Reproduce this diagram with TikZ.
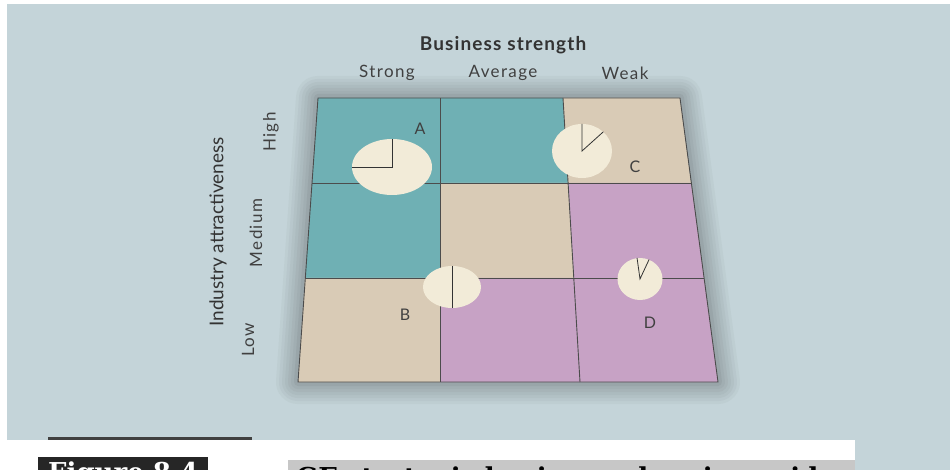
\documentclass[tikz,border=0pt]{standalone}
\usepackage{fontspec}
\setmainfont{Lato}
\newfontfamily\capfont{DejaVu Serif}
\usetikzlibrary{positioning}
\usetikzlibrary{shapes.geometric,calc}

\definecolor{bgblue}{RGB}{196,212,217}
\definecolor{geteal}{RGB}{111,176,180}
\definecolor{gebeige}{RGB}{217,203,182}
\definecolor{gemauve}{RGB}{199,162,197}
\definecolor{gepie}{RGB}{242,235,216}

\begin{document}
\begin{tikzpicture}[x=1pt,y=-1pt,
  lbl/.style={text=black!75, font=\fontsize{17}{20}\selectfont\addfontfeature{LetterSpace=8}},
  ttl/.style={text=black!80, font=\bfseries\fontsize{19}{22}\selectfont\addfontfeature{LetterSpace=6}},
  letter/.style={text=black!75, font=\fontsize{16}{19}\selectfont},
  pie/.style={ellipse, fill=gepie, inner sep=0pt},
  slice/.style={draw=black!80, line width=0.8pt},
  gridline/.style={draw=black!70, line width=0.9pt}]
\useasboundingbox (0,0) rectangle (950,470);
\clip (0,0) rectangle (950,470);
\fill[bgblue] (7,4) rectangle (950,470);
\fill[white] (0,440) rectangle (855,470);
\draw[black!75, line width=3pt] (48,438) -- (252,438);

\coordinate (g00) at (318,98);  \coordinate (g01) at (440,98);
\coordinate (g02) at (563,98);  \coordinate (g03) at (680,98);
\coordinate (g10) at (312,183); \coordinate (g11) at (440,183);
\coordinate (g12) at (568,183); \coordinate (g13) at (691,183);
\coordinate (g20) at (305,278); \coordinate (g21) at (440,278);
\coordinate (g22) at (574,278); \coordinate (g23) at (704,278);
\coordinate (g30) at (298,382); \coordinate (g31) at (440,382);
\coordinate (g32) at (580,382); \coordinate (g33) at (718,382);

\foreach \w/\k in {44/3,38/6,32/9,26/12,20/15,14/18,8/22}
  \draw[draw=black!\k!bgblue, fill=black!\k!bgblue, line width=\w, line join=round,
    shift={(0,16)}] (g00)--(g03)--(g33)--(g30)--cycle;

\foreach \r/\c/\col [evaluate=\r as \rr using int(\r+1),
    evaluate=\c as \cc using int(\c+1)] in
  {0/0/geteal,0/1/geteal,0/2/gebeige,
   1/0/geteal,1/1/gebeige,1/2/gemauve,
   2/0/gebeige,2/1/gemauve,2/2/gemauve}
  \fill[\col] (g\r\c)--(g\r\cc)--(g\rr\cc)--(g\rr\c)--cycle;

\draw[gridline] (g00)--(g03)--(g33)--(g30)--cycle;
\draw[gridline] (g10)--(g13);
\draw[gridline] (g20)--(g23);
\draw[gridline] (g01)--(g31);
\draw[gridline] (g02)--(g32);

\node[pie, minimum width=80, minimum height=56] (pieA) at (392,167) {};
\node[pie, minimum width=60, minimum height=54] (pieC) at (582,151) {};
\node[pie, minimum width=58, minimum height=42] (pieB) at (452,287) {};
\node[pie, minimum width=45, minimum height=42] (pieD) at (640,279) {};
\draw[slice] (pieA.west) -- (pieA.center) -- (pieA.north);
\draw[slice] (pieC.north) -- (pieC.center) -- (pieC.42);
\draw[slice] (pieB.north) -- (pieB.south);
\draw[slice] (pieD.98) -- (pieD.center) -- (pieD.65);

\node[letter] (labA) at (420,129) {A};
\node[letter] (labC) at (635,167) {C};
\node[letter] (labB) at (405,315) {B};
\node[letter] (labD) at (650,323) {D};

\node[lbl] (strong) at (387,73) {Strong};
\node[lbl] (average) at (503,73) {Average};
\node[lbl] (weak) at (625,73) {Weak};
\node[ttl, above=4pt of average] (busstr) {Business strength};

\node[lbl, rotate=90] (high) at (271,132) {High};
\node[lbl, rotate=90] (medium) at (256,233) {Medium};
\node[lbl, rotate=90] (low) at (248,340) {Low};
\node[ttl, rotate=90, font=\fontsize{19}{22}\selectfont] (indattr) at (218,232) {Industry attractiveness};

\node[fill=black!85, text=white, anchor=north west, inner xsep=10pt, inner ysep=5pt,
  font=\capfont\bfseries\fontsize{26}{30}\selectfont] (fig) at (38,457) {Figure 8.4};
\node[fill=black!22, anchor=north west, inner xsep=8pt, inner ysep=7pt,
  text width=551, align=left,
  font=\capfont\bfseries\fontsize{26}{30}\selectfont] (cap) at (288,460) {GE strategic business planning grid};
\end{tikzpicture}
\end{document}
